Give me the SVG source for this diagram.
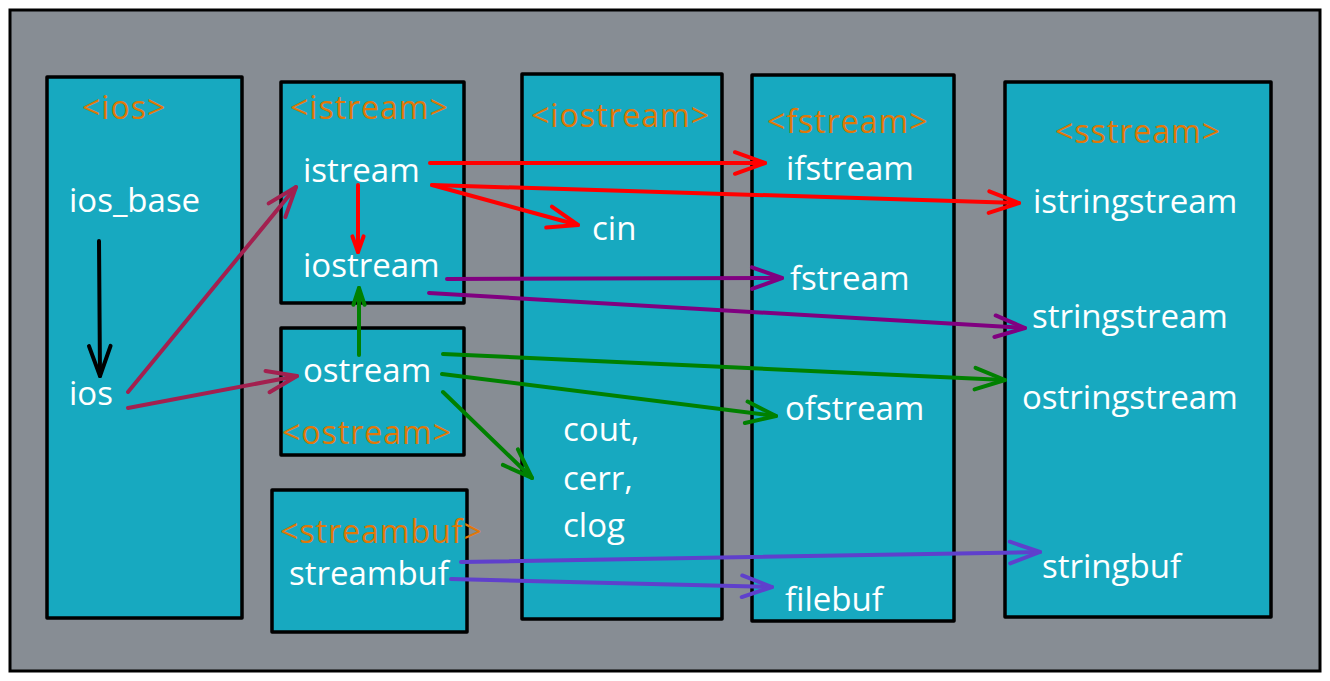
<svg xmlns="http://www.w3.org/2000/svg" width="1330" height="681" viewBox="0 0 1330 681">
<style>
.frame{fill:#878d94;stroke:#000;stroke-width:3}
.box{fill:#17a9c0;stroke:#000;stroke-width:3.5;stroke-linejoin:round}
.tag{font-family:"Open Sans","Noto Sans",sans-serif;font-size:32px;fill:#e07808;letter-spacing:1px}
.lbl{font-family:"Open Sans","Noto Sans",sans-serif;font-size:33px;fill:#fff}
.c{fill:none;stroke-width:4;stroke-linecap:round}
.mk{fill:none;stroke-width:1;stroke-linecap:round;stroke-linejoin:round}
</style>
<defs>
<marker id="aK" markerUnits="strokeWidth" orient="auto" overflow="visible" refX="0" refY="0"><path class="mk" stroke="#000" d="M-7.5,-2.7L0,0L-7.5,2.7"/></marker>
<marker id="aC" markerUnits="strokeWidth" orient="auto" overflow="visible" refX="0" refY="0"><path class="mk" stroke="#a3204f" d="M-7.5,-2.7L0,0L-7.5,2.7"/></marker>
<marker id="aR" markerUnits="strokeWidth" orient="auto" overflow="visible" refX="0" refY="0"><path class="mk" stroke="#ff0000" d="M-7.5,-2.7L0,0L-7.5,2.7"/></marker>
<marker id="aRs" markerUnits="strokeWidth" orient="auto" overflow="visible" refX="0" refY="0"><path class="mk" stroke="#ff0000" d="M-3.9,-1.4L0,0L-3.9,1.4"/></marker>
<marker id="aP" markerUnits="strokeWidth" orient="auto" overflow="visible" refX="0" refY="0"><path class="mk" stroke="#800080" d="M-7.5,-2.7L0,0L-7.5,2.7"/></marker>
<marker id="aG" markerUnits="strokeWidth" orient="auto" overflow="visible" refX="0" refY="0"><path class="mk" stroke="#008000" d="M-7.5,-2.7L0,0L-7.5,2.7"/></marker>
<marker id="aGs" markerUnits="strokeWidth" orient="auto" overflow="visible" refX="0" refY="0"><path class="mk" stroke="#008000" d="M-4.2,-1.4L0,0L-4.2,1.4"/></marker>
<marker id="aB" markerUnits="strokeWidth" orient="auto" overflow="visible" refX="0" refY="0"><path class="mk" stroke="#5f40cc" d="M-7.5,-2.7L0,0L-7.5,2.7"/></marker>
</defs>
<rect class="frame" x="10" y="10" width="1310" height="661"/>
<g id="ios">
<rect class="box" x="47" y="77" width="195" height="541"/>
<text class="tag" x="82" y="119">&lt;ios&gt;</text>
<text class="lbl" x="69" y="212">ios_base</text>
<text class="lbl" x="69" y="405">ios</text>
</g>
<g id="istream">
<rect class="box" x="281" y="82" width="183" height="221"/>
<text class="tag" x="290" y="119">&lt;istream&gt;</text>
<text class="lbl" x="303" y="182">istream</text>
<text class="lbl" x="303" y="277">iostream</text>
</g>
<g id="ostream">
<rect class="box" x="281" y="328" width="183" height="127"/>
<text class="lbl" x="303" y="382">ostream</text>
<text class="tag" x="282" y="444">&lt;ostream&gt;</text>
</g>
<g id="streambuf">
<rect class="box" x="272" y="490" width="195" height="142"/>
<text class="tag" x="280" y="543" letter-spacing="0">&lt;streambuf&gt;</text>
<text class="lbl" x="289" y="585">streambuf</text>
</g>
<g id="iostream">
<rect class="box" x="522" y="74" width="200" height="545"/>
<text class="tag" x="531" y="127">&lt;iostream&gt;</text>
<text class="lbl" x="592" y="240">cin</text>
<text class="lbl" x="563" y="441">cout,</text>
<text class="lbl" x="563" y="490">cerr,</text>
<text class="lbl" x="563" y="537">clog</text>
</g>
<g id="fstream">
<rect class="box" x="752" y="75" width="202" height="546"/>
<text class="tag" x="767" y="133">&lt;fstream&gt;</text>
<text class="lbl" x="786" y="180">ifstream</text>
<text class="lbl" x="790" y="290">fstream</text>
<text class="lbl" x="785" y="420">ofstream</text>
<text class="lbl" x="785" y="611">filebuf</text>
</g>
<g id="sstream">
<rect class="box" x="1005" y="82" width="266" height="535"/>
<text class="tag" x="1055" y="143">&lt;sstream&gt;</text>
<text class="lbl" x="1033" y="213">istringstream</text>
<text class="lbl" x="1032" y="328">stringstream</text>
<text class="lbl" x="1022" y="409">ostringstream</text>
<text class="lbl" x="1042" y="578">stringbuf</text>
</g>
<g id="connectors">
<path class="c" stroke="#000" d="M99,241L100,376" marker-end="url(#aK)"/>
<path class="c" stroke="#a3204f" d="M128,392L296,187" marker-end="url(#aC)"/>
<path class="c" stroke="#a3204f" d="M128,408L297,376" marker-end="url(#aC)"/>
<path class="c" stroke="#ff0000" d="M358,185L358,252" marker-end="url(#aRs)"/>
<path class="c" stroke="#008000" d="M359,355L359,288" marker-end="url(#aGs)"/>
<path class="c" stroke="#ff0000" d="M430,163L765,163" marker-end="url(#aR)"/>
<path class="c" stroke="#ff0000" d="M432,185L1019,203" marker-end="url(#aR)"/>
<path class="c" stroke="#ff0000" d="M432,185L578,225" marker-end="url(#aR)"/>
<path class="c" stroke="#800080" d="M447,279L782,278" marker-end="url(#aP)"/>
<path class="c" stroke="#800080" d="M429,293L1025,328" marker-end="url(#aP)"/>
<path class="c" stroke="#008000" d="M443,354L1005,380" marker-end="url(#aG)"/>
<path class="c" stroke="#008000" d="M442,374L776,416" marker-end="url(#aG)"/>
<path class="c" stroke="#008000" d="M443,392L532,478" marker-end="url(#aG)"/>
<path class="c" stroke="#5f40cc" d="M461,562L1040,552" marker-end="url(#aB)"/>
<path class="c" stroke="#5f40cc" d="M451,579L772,587" marker-end="url(#aB)"/>
</g>
</svg>
